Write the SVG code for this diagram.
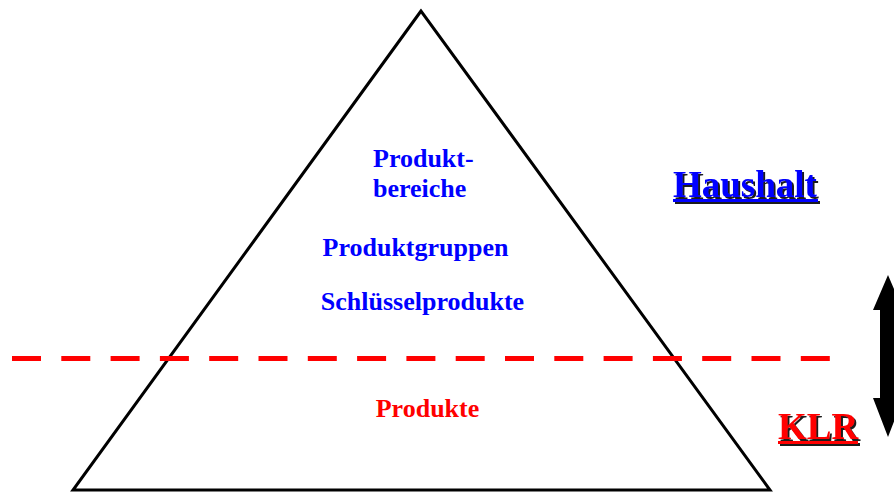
<svg xmlns="http://www.w3.org/2000/svg" width="894" height="492" viewBox="0 0 894 492">
<defs>
<filter id="shadow" x="-10%" y="-10%" width="130%" height="140%">
<feDropShadow dx="2" dy="2" stdDeviation="0" flood-color="#1a1a1a" flood-opacity="1"/>
</filter>
</defs>
<style>
.t{font-family:"Liberation Serif","Times New Roman",serif;font-weight:bold;font-size:26px}
.b{fill:#0000ff}
.r{fill:#ff0000}
.big{font-family:"Liberation Serif","Times New Roman",serif;font-weight:bold;font-size:37px}
</style>
<rect width="894" height="492" fill="#ffffff"/>
<g id="pyramid">
<polygon points="421,11 73,490 770,490" fill="none" stroke="#000" stroke-width="3" stroke-linejoin="miter"/>
</g>
<g id="labels-top">
<text class="t b" x="373" y="167">Produkt-</text>
<text class="t b" x="373" y="197">bereiche</text>
<text class="t b" x="415.5" y="256" text-anchor="middle">Produktgruppen</text>
<text class="t b" x="422.5" y="310" text-anchor="middle">Schlüsselprodukte</text>
</g>
<g id="label-bottom">
<text class="t r" x="427.5" y="417" text-anchor="middle">Produkte</text>
</g>
<g id="haushalt" filter="url(#shadow)">
<text class="big b" x="673" y="197">Haushalt</text>
<rect x="673" y="199" width="145" height="3" class="b"/>
</g>
<g id="klr" filter="url(#shadow)">
<text class="big r" x="778" y="439">KLR</text>
<rect x="778" y="441" width="80" height="3" class="r"/>
</g>
<g id="connectors">
<line x1="12" y1="358.5" x2="830" y2="358.5" stroke="#ff0000" stroke-width="5" stroke-dasharray="29 20.3"/>
<polygon points="888,275 903,310 896,310 896,398 903,398 888,437 873,398 880,398 880,310 873,310" fill="#000"/>
</g>
</svg>
